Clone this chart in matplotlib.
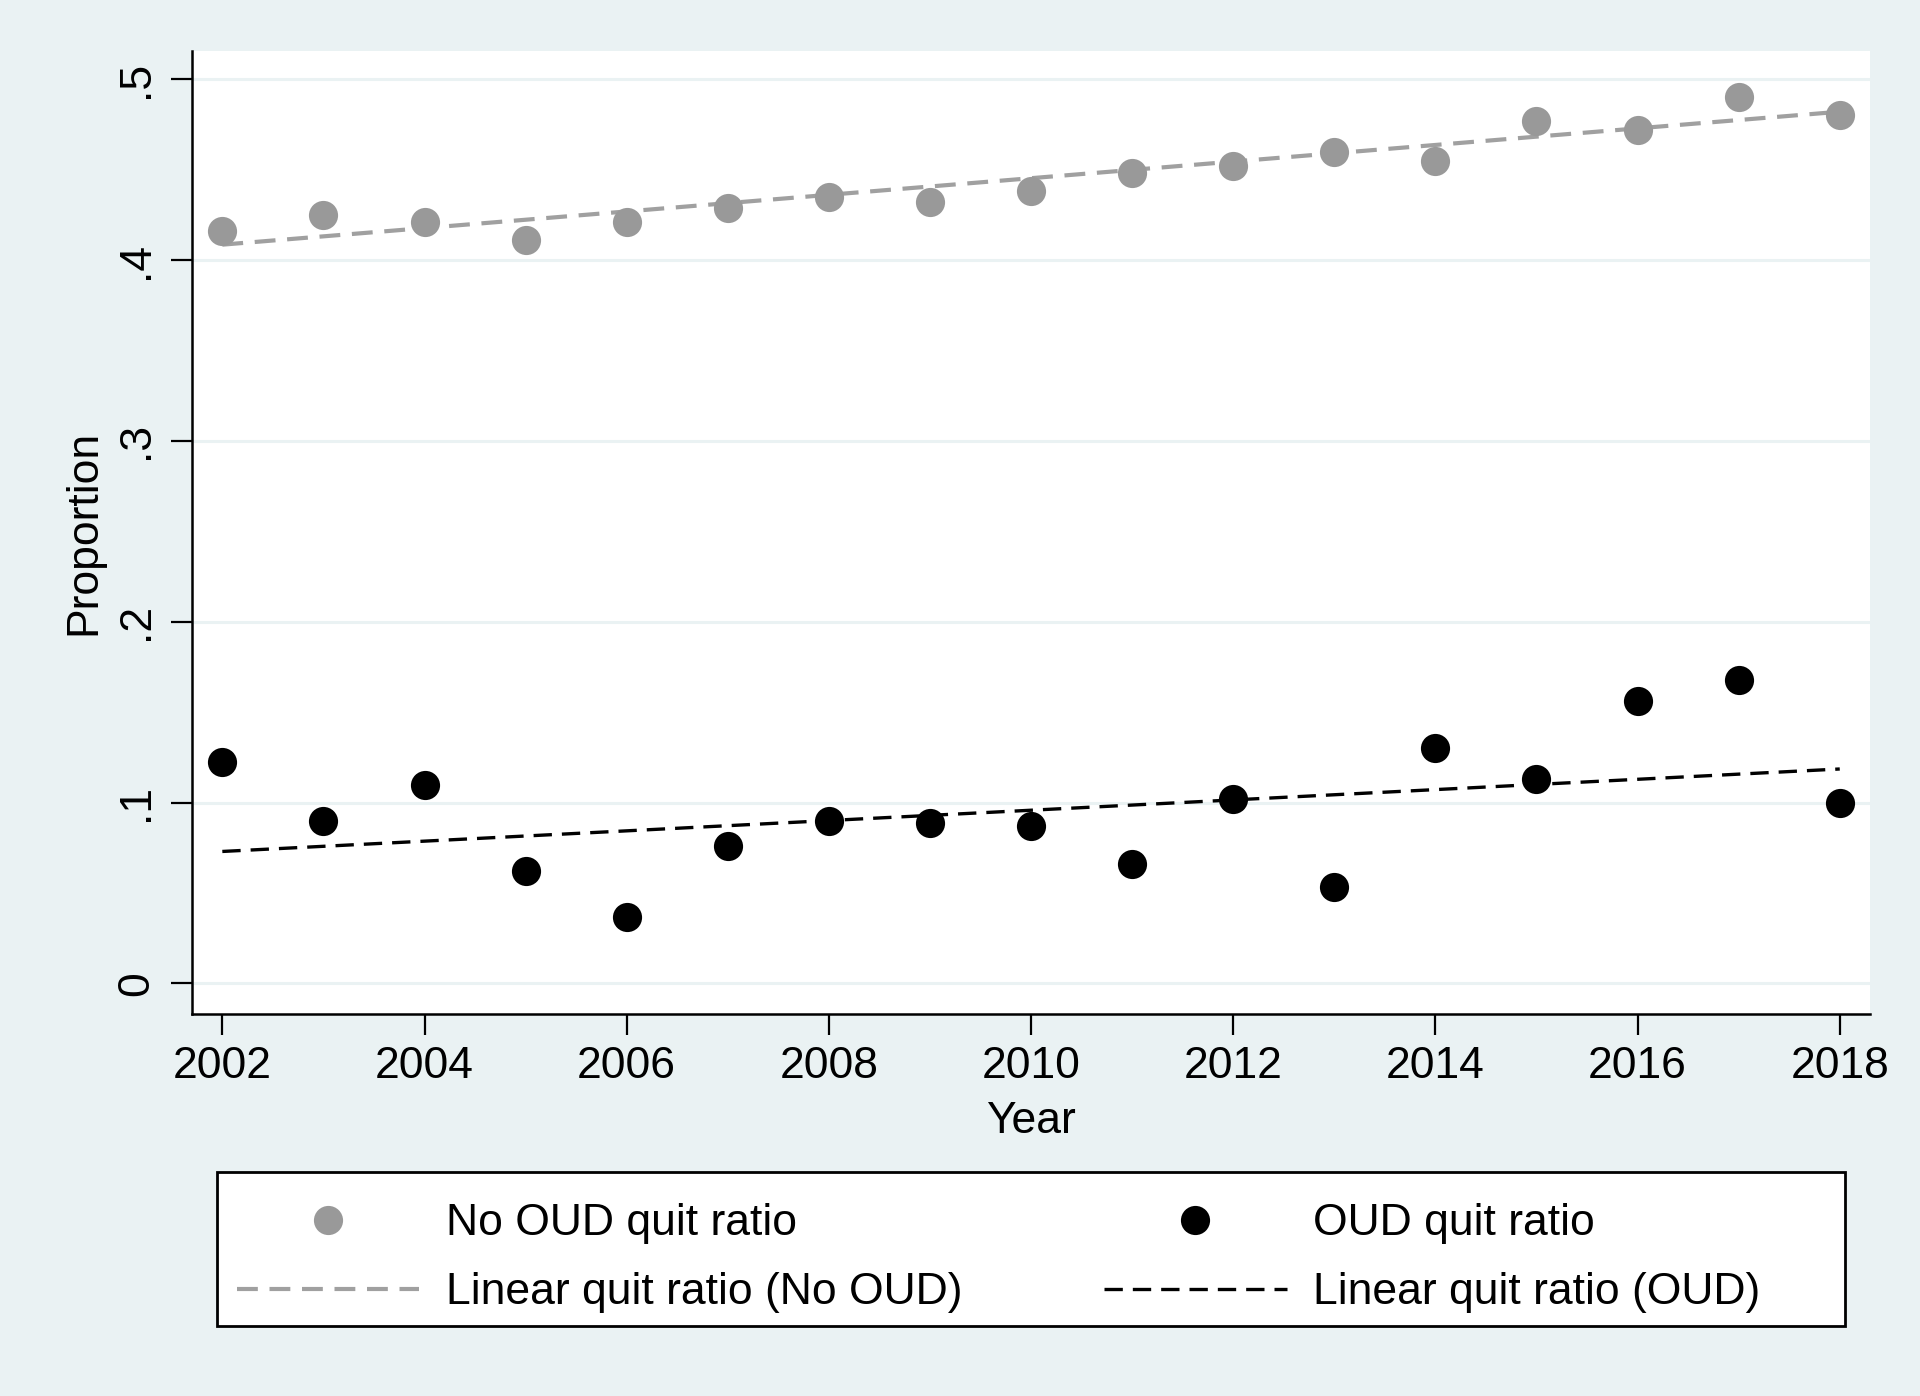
import matplotlib
matplotlib.use("Agg")
import matplotlib.pyplot as plt
from matplotlib.patches import Rectangle
from matplotlib.lines import Line2D

plt.rcParams['font.family'] = ['Liberation Sans', 'DejaVu Sans']

years = [2002, 2003, 2004, 2005, 2006, 2007, 2008, 2009, 2010,
         2011, 2012, 2013, 2014, 2015, 2016, 2017, 2018]
no_oud = [0.416, 0.425, 0.421, 0.411, 0.421, 0.429, 0.435, 0.432, 0.438,
          0.448, 0.452, 0.460, 0.455, 0.477, 0.472, 0.490, 0.480]
oud = [0.1226, 0.090, 0.110, 0.062, 0.037, 0.076, 0.090, 0.089, 0.087,
       0.066, 0.102, 0.0535, 0.130, 0.113, 0.156, 0.168, 0.0996]
# linear fit endpoints
fit_years = [2002, 2018]
fit_no_oud = [0.4085, 0.482]
fit_oud = [0.073, 0.1186]

yticks = [0, 0.1, 0.2, 0.3, 0.4, 0.5]
ytick_labels = ['0', '.1', '.2', '.3', '.4', '.5']
xticks = list(range(2002, 2019, 2))

bg = '#EAF2F3'
gray = '#999999'
lgray = '#A0A0A0'
fs = 32

fig = plt.figure(figsize=(19.2, 13.96), dpi=100, facecolor=bg)
ax = fig.add_axes([0.1, 0.2736, 0.874, 0.6899])
ax.set_facecolor('white')

for y in yticks:
    ax.axhline(y, color=bg, lw=2.2, zorder=0)

ax.plot(fit_years, fit_no_oud, color=lgray, lw=3.0, dashes=(5, 2.8), zorder=2)
ax.plot(fit_years, fit_oud, color='black', lw=2.4, dashes=(5.5, 3), zorder=2)
ax.plot(years, no_oud, 'o', color=gray, ms=21, mew=0, zorder=3)
ax.plot(years, oud, 'o', color='black', ms=21, mew=0, zorder=3)

ax.set_xlim(2001.70, 2018.30)
ax.set_ylim(-0.0169, 0.5156)
ax.set_xticks(xticks)
ax.set_yticks(yticks)
ax.set_yticklabels(ytick_labels, rotation=90, va='center')
ax.tick_params(axis='both', labelsize=fs, length=15, width=1.6, direction='out')
ax.tick_params(axis='x', pad=8)
ax.tick_params(axis='y', pad=10)

for s in ['top', 'right']:
    ax.spines[s].set_visible(False)
for s in ['left', 'bottom']:
    ax.spines[s].set_linewidth(1.8)

ax.set_xlabel('Year', fontsize=fs, labelpad=10)
ax.set_ylabel('Proportion', fontsize=fs, labelpad=8.5)

# legend frame
fig.patches.append(Rectangle((0.113, 0.050), 0.848, 0.1105, transform=fig.transFigure,
                             facecolor='white', edgecolor='black', lw=2, zorder=1))

handles = [
    Line2D([], [], marker='o', ls='none', color=gray, ms=21, mew=0),
    Line2D([], [], color=lgray, lw=3.0, dashes=(5, 2.8)),
    Line2D([], [], marker='o', ls='none', color='black', ms=21, mew=0),
    Line2D([], [], color='black', lw=2.4, dashes=(5.5, 3)),
]
labels = ['No OUD quit ratio', 'Linear quit ratio (No OUD)',
          'OUD quit ratio', 'Linear quit ratio (OUD)']
leg = fig.legend(handles, labels, ncol=2, loc='upper left',
                 bbox_to_anchor=(0.099, 0.1715), frameon=False, fontsize=fs,
                 handlelength=4.1, handletextpad=0.6, columnspacing=3.2,
                 labelspacing=0.63, borderpad=0.55, numpoints=1)

fig.savefig('out.png', dpi=100, facecolor=bg)
